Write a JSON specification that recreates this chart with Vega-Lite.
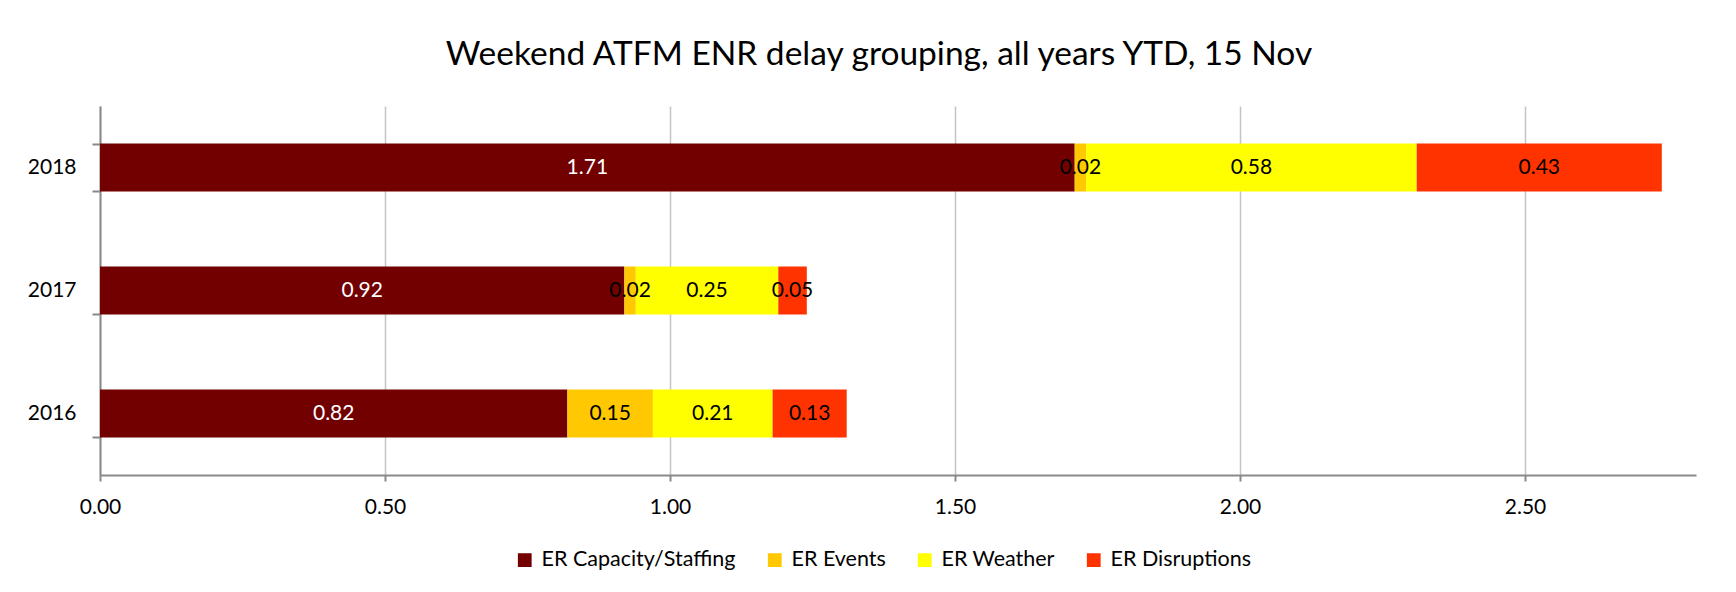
{
  "$schema": "https://vega.github.io/schema/vega-lite/v6.json",
  "width": 1596,
  "height": 369,
  "autosize": {"type": "none"},
  "padding": {"left": 100, "top": 106, "right": 40, "bottom": 117},
  "background": "white",
  "title": {
    "text": "Weekend ATFM ENR delay grouping, all years YTD, 15 Nov",
    "font": "Lato", "fontSize": 33.5, "fontWeight": "normal", "color": "#000000",
    "anchor": "middle", "frame": "group", "baseline": "bottom", "offset": -10, "dx": -19
  },
  "data": {
    "values": [
      {"year": "2018", "cause": "ER Capacity/Staffing", "value": 1.71},
      {"year": "2018", "cause": "ER Events", "value": 0.02},
      {"year": "2018", "cause": "ER Weather", "value": 0.58},
      {"year": "2018", "cause": "ER Disruptions", "value": 0.43},
      {"year": "2017", "cause": "ER Capacity/Staffing", "value": 0.92},
      {"year": "2017", "cause": "ER Events", "value": 0.02},
      {"year": "2017", "cause": "ER Weather", "value": 0.25},
      {"year": "2017", "cause": "ER Disruptions", "value": 0.05},
      {"year": "2016", "cause": "ER Capacity/Staffing", "value": 0.82},
      {"year": "2016", "cause": "ER Events", "value": 0.15},
      {"year": "2016", "cause": "ER Weather", "value": 0.21},
      {"year": "2016", "cause": "ER Disruptions", "value": 0.13}
    ]
  },
  "transform": [
    {"window": [{"op": "row_number", "as": "idx"}]},
    {"stack": "value", "groupby": ["year"], "sort": [{"field": "idx", "order": "ascending"}], "as": ["v0", "v1"]},
    {"calculate": "(datum.v0 + datum.v1) / 2", "as": "mid"}
  ],
  "encoding": {
    "y": {
      "field": "year", "type": "nominal", "sort": ["2018", "2017", "2016"],
      "scale": {"paddingInner": 0.61, "paddingOuter": 0.305},
      "axis": {
        "title": null, "tickBand": "extent", "tickSize": 8, "tickWidth": 2, "tickColor": "#898989",
        "domainColor": "#898989", "domainWidth": 2, "labelPadding": 16,
        "labelFont": "Lato", "labelFontSize": 21, "labelColor": "#000000", "grid": false
      }
    }
  },
  "layer": [
    {
      "mark": {"type": "bar"},
      "encoding": {
        "x": {
          "field": "v0", "type": "quantitative",
          "scale": {"domain": [0, 2.8], "nice": false, "zero": true},
          "axis": {
            "title": null, "values": [0, 0.5, 1, 1.5, 2, 2.5], "format": ".2f", "labelFlush": false,
            "labelFont": "Lato", "labelFontSize": 21, "labelColor": "#000000", "labelPadding": 15,
            "tickSize": 6, "tickWidth": 2, "tickColor": "#898989",
            "domainColor": "#898989", "domainWidth": 2,
            "grid": true, "gridColor": "#c4c4c4", "gridWidth": 1.5
          }
        },
        "x2": {"field": "v1"},
        "color": {
          "field": "cause", "type": "nominal",
          "scale": {
            "domain": ["ER Capacity/Staffing", "ER Events", "ER Weather", "ER Disruptions"],
            "range": ["#720000", "#FFC800", "#FFFF00", "#FF3300"]
          },
          "legend": {
            "orient": "none", "legendX": 414, "legendY": 443, "direction": "horizontal",
            "title": null, "symbolType": "square", "symbolSize": 190, "symbolStrokeWidth": 0,
            "labelFont": "Lato", "labelFontSize": 21.5, "labelColor": "#000000",
            "labelOffset": 6, "columnPadding": 28, "labelLimit": 400, "padding": 0
          }
        }
      }
    },
    {
      "mark": {"type": "text", "font": "Lato", "fontSize": 21, "baseline": "middle", "align": "center"},
      "encoding": {
        "x": {"field": "mid", "type": "quantitative"},
        "text": {"field": "value", "type": "quantitative", "format": ".2f"},
        "color": {
          "condition": {"test": "datum.cause === 'ER Capacity/Staffing'", "value": "#ffffff"},
          "value": "#000000"
        }
      }
    }
  ],
  "config": {"view": {"stroke": null}}
}
